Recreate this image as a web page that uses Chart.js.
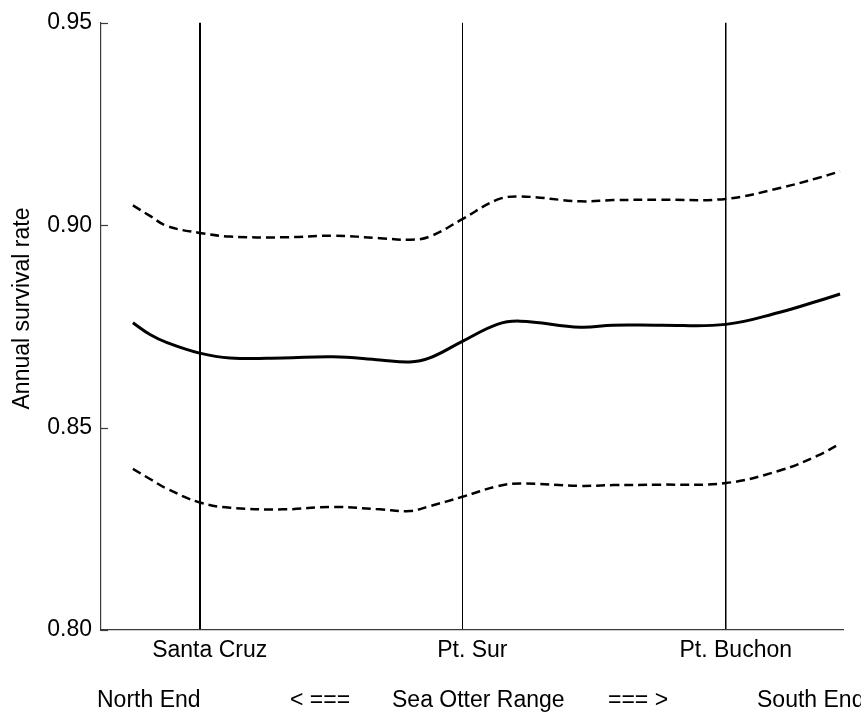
<!DOCTYPE html>
<html>
<head>
<meta charset="utf-8">
<script src="https://cdn.jsdelivr.net/npm/chart.js@4"></script>
<style>
  body { margin: 0; background: #fff; }
  canvas { display: block; }
</style>
</head>
<body>
<canvas id="survivalChart" width="861" height="715"></canvas>
<script>
const survivalChart = document.getElementById("survivalChart");

// position along the range (0 = north end of axis, 100 = south end)
const distance = [4.3, 6.6, 8.9, 13.3, 17.4, 24.5, 31.3, 37.6, 41.6, 44.3, 48.7, 53.4, 56.5, 64.6, 69.0, 75.3, 84.2, 91.5, 96.5, 99.6]
const survival = [0.8759, 0.8730, 0.8710, 0.8684, 0.8672, 0.8672, 0.8675, 0.8667, 0.8662, 0.8672, 0.8713, 0.8755, 0.8763, 0.8748, 0.8753, 0.8753, 0.8755, 0.8785, 0.8812, 0.8830]
const upperBound = [0.9049, 0.9023, 0.8998, 0.8981, 0.8972, 0.8970, 0.8974, 0.8968, 0.8964, 0.8972, 0.9015, 0.9063, 0.9071, 0.9059, 0.9062, 0.9063, 0.9065, 0.9092, 0.9116, 0.9133]
const lowerBound = [0.8398, 0.8373, 0.8349, 0.8315, 0.8302, 0.8298, 0.8304, 0.8298, 0.8294, 0.8306, 0.8329, 0.8355, 0.8362, 0.8356, 0.8358, 0.8359, 0.8363, 0.8394, 0.8430, 0.8460]

const landmarkPos = [13.3, 48.7, 84.2]
const landmarkNames = ['Santa Cruz', 'Pt. Sur', 'Pt. Buchon']
const yTicks = [0.80, 0.85, 0.90, 0.95]
const rangeNotes = ['North End', '< ===', 'Sea Otter Range', '=== >', 'South End']
const yTitle = 'Annual survival rate'

const FONT = '"Liberation Sans", Arial, Helvetica, sans-serif'

const toPoints = (vals) => distance.map((d, i) => ({ x: d, y: vals[i] }))

const extras = {
    id: 'extras',
    afterDraw: (chart) => {
        const ctx = chart.ctx
        const area = chart.chartArea
        const y = chart.scales.y
        ctx.save()
        // short inward ticks on the y axis
        ctx.strokeStyle = '#3a3a3a'
        ctx.lineWidth = 1.2
        yTicks.forEach(v => {
            const py = Math.round(y.getPixelForValue(v)) + 0.5
            ctx.beginPath()
            ctx.moveTo(area.left, py)
            ctx.lineTo(area.left + 7, py)
            ctx.stroke()
        })
        // range notes under the axis
        ctx.fillStyle = '#000'
        ctx.font = '23px ' + FONT
        ctx.textAlign = 'left'
        ctx.textBaseline = 'alphabetic'
        const noteX = [97, 290, 392, 608, 757]
        rangeNotes.forEach((t, i) => ctx.fillText(t, noteX[i], 707))
        // y axis title
        ctx.translate(28.5, 308.5)
        ctx.rotate(-Math.PI / 2)
        ctx.textAlign = 'center'
        ctx.fillText(yTitle, 0, 0)
        ctx.restore()
    }
}

const lineStyle = (dashed) => ({
    borderColor: '#000',
    borderWidth: dashed ? 2.5 : 3,
    borderDash: dashed ? [9, 5] : [],
    pointRadius: 0,
    tension: 0.4,
    fill: false
})

new Chart(survivalChart, {
    type: 'line',
    data: {
        datasets: [
            { label: 'Survival', data: toPoints(survival), ...lineStyle(false) },
            { label: 'Upper', data: toPoints(upperBound), ...lineStyle(true) },
            { label: 'Lower', data: toPoints(lowerBound), ...lineStyle(true) }
        ]
    },
    options: {
        responsive: false,
        animation: false,
        devicePixelRatio: 1,
        layout: { padding: { top: 14, right: 18, left: 0, bottom: 0 } },
        plugins: {
            legend: { display: false },
            tooltip: { enabled: false }
        },
        scales: {
            x: {
                type: 'linear',
                min: 0,
                max: 100,
                afterBuildTicks: (scale) => {
                    scale.ticks = landmarkPos.map(v => ({ value: v }))
                },
                afterFit: (scale) => { scale.height = 85 },
                ticks: {
                    autoSkip: false,
                    maxRotation: 0,
                    padding: 7,
                    labelOffset: 10,
                    color: '#000',
                    font: { family: FONT, size: 23 },
                    callback: (v, i) => landmarkNames[i]
                },
                grid: {
                    display: true,
                    drawOnChartArea: true,
                    drawTicks: false,
                    color: '#000',
                    lineWidth: (c) => [2, 1, 1.5][c.index] || 1
                },
                border: { display: true, color: '#3a3a3a', width: 1.3 }
            },
            y: {
                min: 0.80,
                max: 0.95,
                afterBuildTicks: (scale) => {
                    scale.ticks = yTicks.map(v => ({ value: v }))
                },
                afterFit: (scale) => { scale.width = 101 },
                ticks: {
                    padding: 9,
                    color: '#000',
                    font: { family: FONT, size: 23 },
                    callback: (v) => Number(v).toFixed(2)
                },
                grid: { display: false, drawTicks: false },
                border: { display: true, color: '#3a3a3a', width: 1.2 }
            }
        }
    },
    plugins: [extras]
});
</script>
</body>
</html>
